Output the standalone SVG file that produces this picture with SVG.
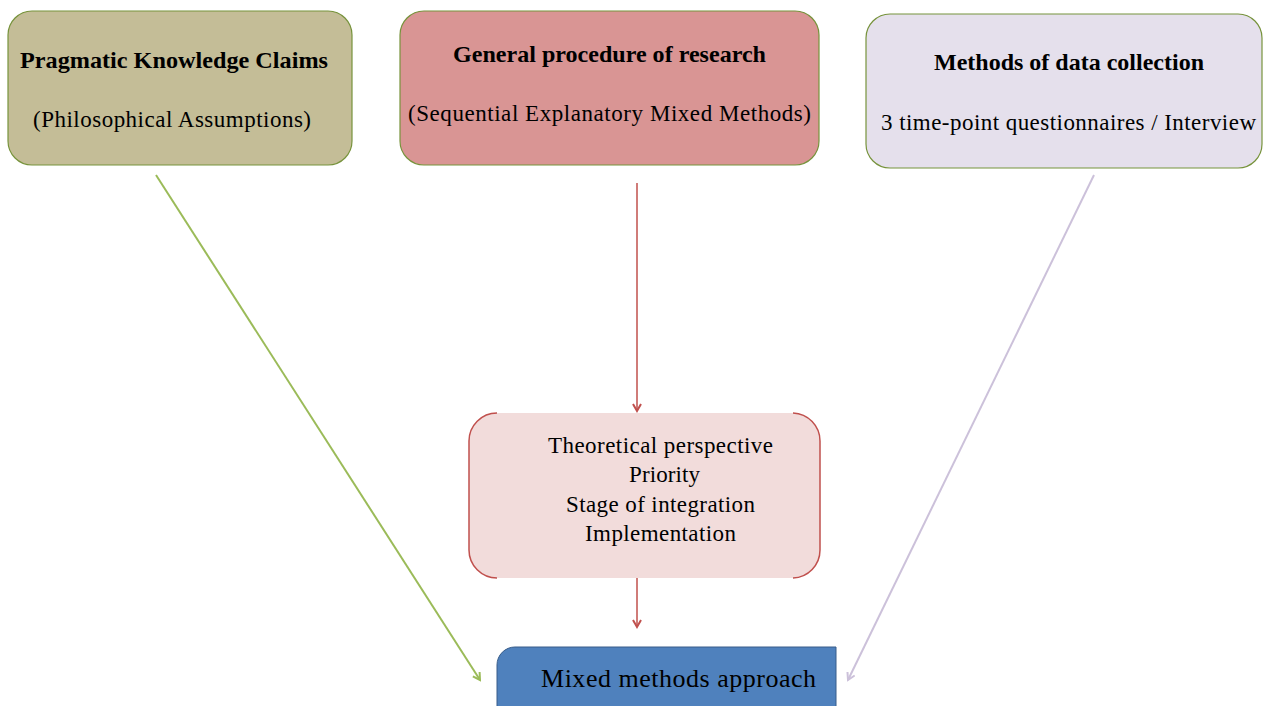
<svg xmlns="http://www.w3.org/2000/svg" width="1263" height="706" viewBox="0 0 1263 706">
<defs>
<style>
text{font-family:"Liberation Serif","Times New Roman",serif;fill:#000;text-anchor:middle;font-size:23px}
.b{font-weight:bold}
</style>
<marker id="ag" markerWidth="10" markerHeight="10" refX="8" refY="5" orient="auto" markerUnits="userSpaceOnUse"><path d="M1,1 L8,5 L1,9" fill="none" stroke="#9bbb59" stroke-width="2"/></marker>
<marker id="ar" markerWidth="10" markerHeight="10" refX="8" refY="5" orient="auto" markerUnits="userSpaceOnUse"><path d="M1,1 L8,5 L1,9" fill="none" stroke="#c0504d" stroke-width="2"/></marker>
<marker id="al" markerWidth="10" markerHeight="10" refX="8" refY="5" orient="auto" markerUnits="userSpaceOnUse"><path d="M1,1 L8,5 L1,9" fill="none" stroke="#ccc1da" stroke-width="2"/></marker>
</defs>
<rect width="1263" height="706" fill="#fff"/>
<g id="connectors" fill="none" stroke-width="2">
<line x1="156" y1="175" x2="480" y2="680" stroke="#9bbb59" marker-end="url(#ag)"/>
<line x1="637" y1="183" x2="637" y2="411" stroke="#c0504d" stroke-width="1.5" marker-end="url(#ar)"/>
<line x1="637" y1="567" x2="637" y2="627" stroke="#c0504d" stroke-width="1.5" marker-end="url(#ar)"/>
<line x1="1094" y1="175" x2="848" y2="680" stroke="#ccc1da" marker-end="url(#al)"/>
</g>
<g id="n1">
<rect x="8" y="11" width="344" height="154" rx="24" fill="#c4bd97" stroke="#77933c" stroke-width="1.2"/>
<text class="b" x="174" y="68" textLength="308" lengthAdjust="spacingAndGlyphs">Pragmatic Knowledge Claims</text>
<text x="172" y="127" textLength="278" lengthAdjust="spacing">(Philosophical Assumptions)</text>
</g>
<g id="n2">
<rect x="400" y="11" width="419" height="154" rx="24" fill="#d99594" stroke="#77933c" stroke-width="1.2"/>
<text class="b" x="609.5" y="62" textLength="313" lengthAdjust="spacingAndGlyphs">General procedure of research</text>
<text x="609.5" y="121" textLength="403" lengthAdjust="spacing">(Sequential Explanatory Mixed Methods)</text>
</g>
<g id="n3">
<rect x="866" y="14" width="396" height="154" rx="24" fill="#e5e0ec" stroke="#77933c" stroke-width="1.2"/>
<text class="b" x="1069" y="70" textLength="270" lengthAdjust="spacingAndGlyphs">Methods of data collection</text>
<text x="1068.5" y="130" textLength="375" lengthAdjust="spacing">3 time-point questionnaires / Interview</text>
</g>
<g id="n4">
<rect x="469" y="413" width="351" height="165" rx="28" fill="#f2dcdb"/>
<path d="M497,413 A28,28 0 0 0 469,441 V550 A28,28 0 0 0 497,578 M793,413 A28,28 0 0 1 820,441 V550 A28,28 0 0 1 793,578" fill="none" stroke="#c0504d" stroke-width="1.5"/>
<text x="660.5" y="453" textLength="225" lengthAdjust="spacing">Theoretical perspective</text>
<text x="664.5" y="482" textLength="71" lengthAdjust="spacing">Priority</text>
<text x="660.5" y="512" textLength="189" lengthAdjust="spacing">Stage of integration</text>
<text x="660.5" y="541" textLength="151" lengthAdjust="spacing">Implementation</text>
</g>
<g id="n5">
<path d="M497,712 V665 A18,18 0 0 1 515,647 H836 V712 Z" fill="#4f81bd" stroke="#385d8a" stroke-width="1"/>
<text x="678.5" y="687" style="font-size:26px" textLength="275" lengthAdjust="spacing">Mixed methods approach</text>
</g>
</svg>
